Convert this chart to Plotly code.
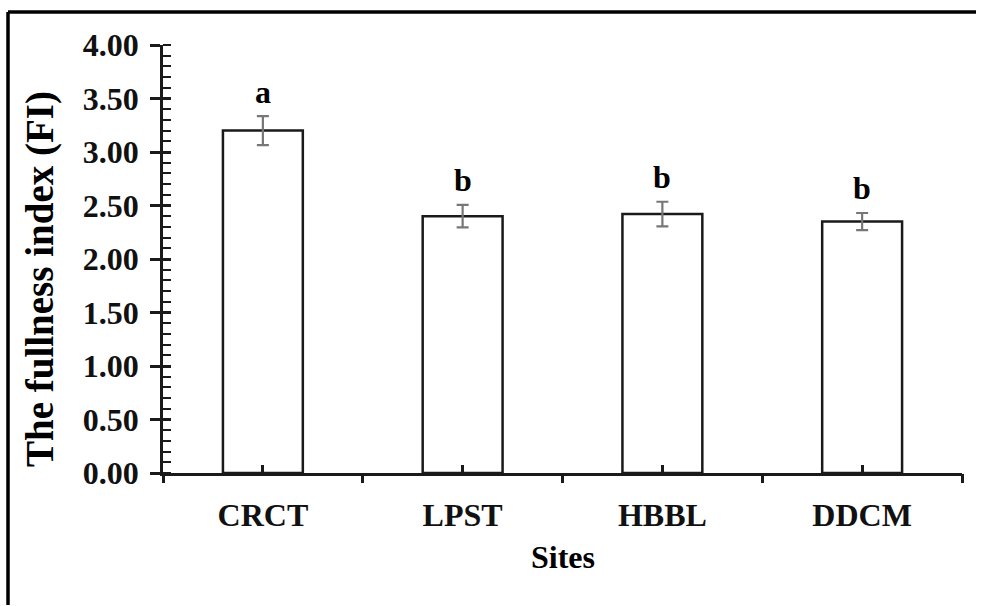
import plotly.graph_objects as go

# Fullness index by sampling site (mean ± SE) with significance groups
sites = ["CRCT", "LPST", "HBBL", "DDCM"]
fullness_mean = [3.20, 2.40, 2.42, 2.35]
fullness_se = [0.135, 0.105, 0.115, 0.08]
groups = ["a", "b", "b", "b"]
y_tick_values = [0.0, 0.5, 1.0, 1.5, 2.0, 2.5, 3.0, 3.5, 4.0]
y_tick_labels = ["0.00", "0.50", "1.00", "1.50", "2.00", "2.50", "3.00", "3.50", "4.00"]

FONT = "Liberation Serif"
W, H = 984, 606
ML, MR, MT, MB = 163, 22, 45, 133
plot_w = W - ML - MR
plot_h = H - MT - MB

fig = go.Figure()

fig.add_trace(go.Bar(
    x=sites,
    y=fullness_mean,
    width=0.4,
    marker=dict(color="white", line=dict(color="#1a1a1a", width=2.5)),
    error_y=dict(type="data", array=fullness_se, visible=True,
                 color="#777777", thickness=2.2, width=6),
    showlegend=False,
    hoverinfo="skip",
))

# helper axes: category boundary ticks (outside) and bar-centre ticks (inside)
n = len(sites)
fig.add_trace(go.Scatter(x=[], y=[], xaxis="x2", yaxis="y", showlegend=False))
fig.add_trace(go.Scatter(x=[], y=[], xaxis="x3", yaxis="y", showlegend=False))
fig.add_trace(go.Scatter(x=[], y=[], xaxis="x", yaxis="y2", showlegend=False))

label_offset = 0.23
for s, m, e, g in zip(sites, fullness_mean, fullness_se, groups):
    fig.add_annotation(x=s, y=m + e + label_offset, xref="x", yref="y",
                       text=f"<b>{g}</b>", showarrow=False, yanchor="middle",
                       font=dict(family=FONT, size=32, color="black"))

# axis titles
fig.add_annotation(x=(40 - ML) / plot_w, y=(H - MB - 279) / plot_h,
                   xref="paper", yref="paper", text="<b>The fullness index (FI)</b>",
                   textangle=-90, showarrow=False, xanchor="center", yanchor="middle",
                   font=dict(family=FONT, size=39, color="black"))
fig.add_annotation(x=0.5, y=(H - MB - 557) / plot_h, xref="paper", yref="paper",
                   text="<b>Sites</b>", showarrow=False, xanchor="center", yanchor="middle",
                   font=dict(family=FONT, size=32, color="black"))

# outer frame (left and top edges only), kept inside the page
fx = (8 - ML) / plot_w
fy_top = (H - MB - 12) / plot_h
fy_bot = (H - MB - (H - 1)) / plot_h
fx_right = (W - 8 - ML) / plot_w
fig.add_shape(type="line", xref="paper", yref="paper",
              x0=fx, x1=fx, y0=fy_bot, y1=fy_top,
              line=dict(color="black", width=3.5), layer="below")
fig.add_shape(type="line", xref="paper", yref="paper",
              x0=fx, x1=fx_right, y0=fy_top, y1=fy_top,
              line=dict(color="black", width=3.5), layer="below")

axis_line = dict(showline=True, linecolor="#1a1a1a", linewidth=2.5, showgrid=False, zeroline=False)

fig.update_layout(
    width=W, height=H,
    margin=dict(l=ML, r=MR, t=MT, b=MB, autoexpand=False),
    paper_bgcolor="white", plot_bgcolor="white",
    bargap=0.6,
    xaxis=dict(**axis_line, type="category", range=[-0.5, n - 0.5],
               ticks="", tickfont=dict(family=FONT, size=32, color="#111111"),
               ticklabelstandoff=12, tickprefix="<b>", ticksuffix="</b>"),
    xaxis2=dict(overlaying="x", anchor="y", range=[-0.5, n - 0.5], showline=False,
                showgrid=False, zeroline=False, showticklabels=False,
                tickmode="array", tickvals=[i - 0.5 for i in range(n + 1)],
                ticks="outside", ticklen=9, tickwidth=2.5, tickcolor="#1a1a1a"),
    xaxis3=dict(overlaying="x", anchor="y", range=[-0.5, n - 0.5], showline=False,
                showgrid=False, zeroline=False, showticklabels=False,
                tickmode="array", tickvals=list(range(n)) + [n - 0.5],
                ticks="inside", ticklen=8, tickwidth=2.5, tickcolor="#1a1a1a"),
    yaxis=dict(**axis_line, range=[0, 4.0], tickmode="array",
               tickvals=y_tick_values, ticktext=[f"<b>{t}</b>" for t in y_tick_labels],
               ticks="outside", ticklen=10, tickwidth=2.5, tickcolor="#1a1a1a",
               ticklabelstandoff=5,
               tickfont=dict(family=FONT, size=32, color="#111111"),
               minor=dict(dtick=0.1, ticks="inside", ticklen=8, tickwidth=2,
                          tickcolor="#1a1a1a")),
    yaxis2=dict(overlaying="y", anchor="x", range=[0, 4.0], showline=False,
                showgrid=False, zeroline=False, showticklabels=False,
                tickmode="array", tickvals=y_tick_values,
                ticks="inside", ticklen=8, tickwidth=2.5, tickcolor="#1a1a1a"),
)

fig.write_html("out.html")
